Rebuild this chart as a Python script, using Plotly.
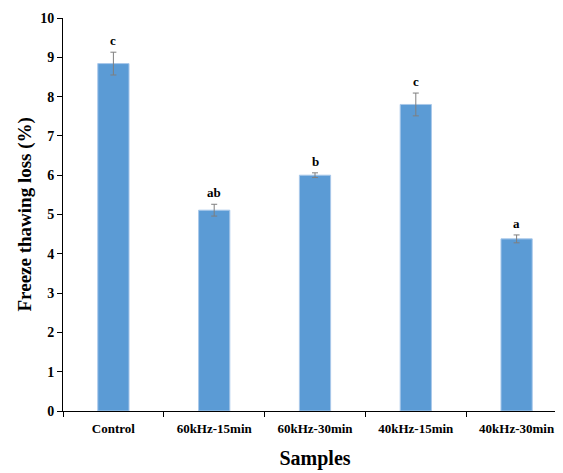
import plotly.graph_objects as go

samples = ["Control", "60kHz-15min", "60kHz-30min", "40kHz-15min", "40kHz-30min"]
loss = [8.84, 5.11, 6.00, 7.80, 4.38]
err = [0.29, 0.15, 0.06, 0.29, 0.10]
letters = ["c", "ab", "b", "c", "a"]

FONT = "Liberation Serif"

fig = go.Figure()
fig.add_trace(go.Bar(
    x=samples, y=loss,
    marker=dict(color="#5B9BD5", line=dict(color="#A9C8EA", width=1)),
    error_y=dict(type="data", array=err, visible=True, color="#7F7F7F", thickness=1, width=3),
    width=0.31,
))

for s, v, e, l in zip(samples, loss, err, letters):
    fig.add_annotation(x=s, y=v + e, text=f"<b>{l}</b>", showarrow=False,
                       yanchor="bottom", yshift=2,
                       font=dict(family=FONT, size=13, color="black"))

fig.add_annotation(xref="paper", yref="paper", x=0, y=0.5, xshift=-39,
                   text="<b>Freeze thawing loss (%)</b>", textangle=-90,
                   showarrow=False, xanchor="center", yanchor="middle",
                   font=dict(family=FONT, size=19, color="black"))

fig.update_layout(
    width=563, height=473,
    margin=dict(l=55, r=4, t=10, b=70),
    paper_bgcolor="white", plot_bgcolor="white",
    showlegend=False,
    font=dict(family=FONT, color="black"),
)
fig.update_xaxes(
    range=[-0.5, 4.5], showline=True, linecolor="black", linewidth=1,
    ticks="outside", tickson="boundaries", ticklen=5, tickcolor="black",
    ticklabelstandoff=5,
    tickfont=dict(family=FONT, size=13, color="black", weight="bold"),
    title=dict(text="<b>Samples</b>", font=dict(family=FONT, size=20, color="black"), standoff=16),
    showgrid=False, automargin=False,
)
fig.update_yaxes(
    range=[0, 10], dtick=1, showline=True, linecolor="black", linewidth=1,
    ticks="outside", ticklen=5, tickcolor="black",
    tickfont=dict(family=FONT, size=14, color="black", weight="bold"),
    showgrid=False, zeroline=False, automargin=False,
)

fig.write_html("out.html")
